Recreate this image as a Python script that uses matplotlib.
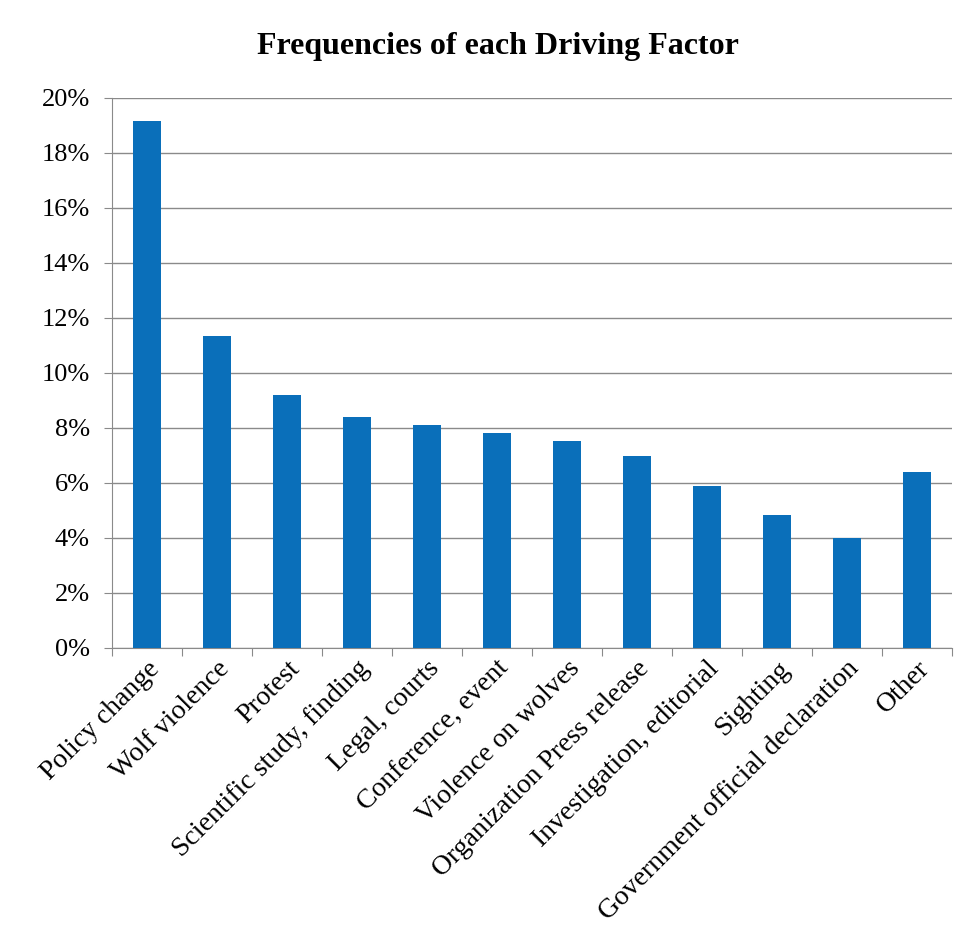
import matplotlib.pyplot as plt
from matplotlib.ticker import FuncFormatter, MultipleLocator

factores = ['Policy change', 'Wolf violence', 'Protest', 'Scientific study, finding',
            'Legal, courts', 'Conference, event', 'Violence on wolves',
            'Organization Press release', 'Investigation, editorial', 'Sighting',
            'Government official declaration', 'Other']
frecuencias = [0.1916, 0.1135, 0.0920, 0.0840, 0.0810, 0.0780, 0.0752,
               0.0699, 0.0590, 0.0482, 0.0399, 0.0641]

plt.rcParams['font.family'] = ['Liberation Serif', 'DejaVu Serif']

fig = plt.figure(figsize=(9.66, 9.39), dpi=100)
ax = fig.add_axes([0.116, 0.31, 0.869, 0.586])

x = range(len(factores))
ax.bar(x, frecuencias, width=0.4, color='#0A6FBA', zorder=3)

ax.set_xlim(-0.5, len(factores) - 0.5)
ax.set_ylim(0, 0.20)
ax.yaxis.set_major_locator(MultipleLocator(0.02))
ax.yaxis.set_major_formatter(FuncFormatter(lambda v, p: f'{v*100:.0f}%'))
ax.grid(axis='y', color='#8a8a8a', linewidth=1.0, zorder=0)

# separadores entre categorias en el eje x
ax.set_xticks([i + 0.5 for i in range(-1, len(factores))])
ax.set_xticklabels([])
ax.set_xticks(list(x), minor=True)
ax.set_xticklabels(factores, minor=True, rotation=45, ha='right',
                   rotation_mode='anchor', fontsize=20)
ax.tick_params(axis='x', which='minor', length=0, pad=6)
ax.tick_params(axis='x', which='major', length=6, color='#8a8a8a')
ax.tick_params(axis='y', length=6, color='#8a8a8a', labelsize=19, pad=10)

for s in ['top', 'right']:
    ax.spines[s].set_visible(False)
for s in ['left', 'bottom']:
    ax.spines[s].set_color('#8a8a8a')

fig.text(0.515, 0.951, 'Frequencies of each Driving Factor', ha='center',
         va='center', fontsize=23, fontweight='bold')

plt.savefig('out.png', dpi=100)
